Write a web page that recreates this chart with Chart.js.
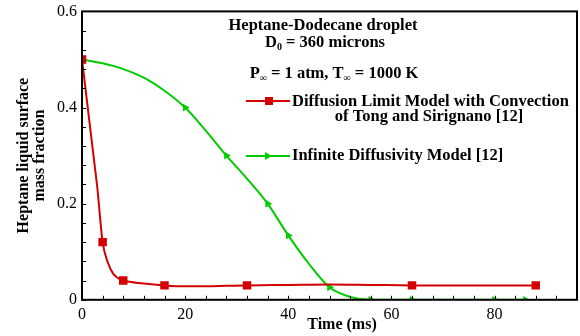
<!DOCTYPE html>
<html><head><meta charset="utf-8">
<script src="https://cdn.jsdelivr.net/npm/chart.js@4"></script>
<style>html,body{margin:0;padding:0;background:#fff;overflow:hidden}#w{width:580px;height:336px;overflow:hidden}</style>
</head><body><div id="w"><canvas id="c" width="583" height="336"></canvas></div>
<script>
// Diffusion limit model (red) curve samples: time (ms), mass fraction
const redTime  = [0, 1, 2, 3, 4, 5, 6, 7, 8, 12, 16, 20, 24, 28, 32, 40, 48, 56, 64, 76, 88];
const redValue = [0.5, 0.41, 0.32, 0.23, 0.12, 0.078, 0.055, 0.045, 0.04, 0.034, 0.03, 0.028, 0.028, 0.029, 0.03, 0.031, 0.032, 0.031, 0.03, 0.03, 0.03];
const redMarkerTimes = [0, 4, 8, 16, 32, 64, 88];
// Infinite diffusivity model (green)
const greenTime  = [0, 4, 8, 12, 16, 20, 24, 28, 32, 36, 40, 44, 48, 52, 56, 64, 72, 80, 86];
const greenValue = [0.5, 0.492, 0.48, 0.462, 0.435, 0.4, 0.352, 0.3, 0.252, 0.2, 0.134, 0.075, 0.026, 0.006, 0, 0, 0, 0, 0];
const greenMarkerTimes = [0, 20, 28, 36, 40, 48, 56, 64, 80, 86];
const xTickLabels = [0, 20, 40, 60, 80];
const yTickLabels = [0, 0.2, 0.4, 0.6];
const xTitle = 'Time (ms)';
const seriesNames = ['Diffusion Limit Model with Convection', 'of Tong and Sirignano [12]', 'Infinite Diffusivity Model [12]'];

const RED = '#d40000', GREEN = '#00cc00';
const SERIF = '"Liberation Serif", "Times New Roman", serif';
const BOLD = 'bold 16.5px '+SERIF;
const SUB = 'bold 10px '+SERIF;

const redData = redTime.map((t,i)=>({x:t,y:redValue[i]}));
const greenData = greenTime.map((t,i)=>({x:t,y:greenValue[i]}));

// draws a line made of [text, isSubscript] pieces centred at cx
function richText(ctx, parts, cx, cy){
  let w=0;
  parts.forEach(p=>{ctx.font=p[1]?SUB:BOLD; w+=ctx.measureText(p[0]).width;});
  let x=cx-w/2;
  ctx.textAlign='left'; ctx.textBaseline='alphabetic';
  parts.forEach(p=>{ctx.font=p[1]?SUB:BOLD; ctx.fillText(p[0], x, cy+(p[1]?3:0)); x+=ctx.measureText(p[0]).width;});
}

const decor = {
  id:'decor',
  afterDraw(chart){
    const {ctx, chartArea:a, scales:{x,y}} = chart;
    ctx.save();
    ctx.strokeStyle='#000'; ctx.lineWidth=1;
    x.ticks.forEach(t=>{const px=Math.round(x.getPixelForValue(t.value))+0.5; ctx.beginPath(); ctx.moveTo(px,a.bottom); ctx.lineTo(px,a.bottom-4); ctx.stroke();});
    y.ticks.forEach(t=>{const py=Math.round(y.getPixelForValue(t.value))+0.5; ctx.beginPath(); ctx.moveTo(a.left,py); ctx.lineTo(a.left+4,py); ctx.stroke();});
    ctx.lineWidth=2;
    ctx.strokeRect(a.left, a.top, a.right-a.left, a.bottom-a.top);
    ctx.fillStyle='#000';
    // x axis title
    ctx.font='bold 16px '+SERIF; ctx.textAlign='center'; ctx.textBaseline='middle';
    ctx.fillText(xTitle, 342, 325);
    richText(ctx, [['Heptane-Dodecane droplet',0]], 323, 30);
    richText(ctx, [['D',0],['0',1],[' = 360 microns',0]], 325, 47);
    richText(ctx, [['P',0],['\u221E',1],[' = 1 atm, T',0],['\u221E',1],[' = 1000 K',0]], 334, 78);
    const lx0=246, lx1=290;
    const entries=[{ds:0,y:101},{ds:1,y:156}];
    entries.forEach(e=>{
      const d=chart.data.datasets[e.ds];
      ctx.strokeStyle=d.borderColor; ctx.lineWidth=2;
      ctx.beginPath(); ctx.moveTo(lx0,e.y); ctx.lineTo(lx1,e.y); ctx.stroke();
      ctx.fillStyle=d.borderColor;
      if(e.ds===0){ctx.fillRect(265,e.y-4,8,8);} else {
        ctx.beginPath(); ctx.moveTo(272,e.y); ctx.lineTo(265,e.y-4); ctx.lineTo(265,e.y+4); ctx.closePath(); ctx.fill();
      }
    });
    ctx.fillStyle='#000'; ctx.font=BOLD; ctx.textBaseline='middle';
    ctx.textAlign='left';
    ctx.fillText(seriesNames[0], 292, 102);
    ctx.textAlign='center';
    ctx.fillText(seriesNames[1], 429, 117);
    ctx.textAlign='left';
    ctx.fillText(seriesNames[2], 292, 156);
    ctx.restore();
  }
};

new Chart(document.getElementById('c'), {
  type:'line',
  data:{datasets:[
    {data:redData, borderColor:RED, backgroundColor:RED, borderWidth:2, cubicInterpolationMode:'monotone', order:0,
     pointStyle:'rect', pointRadius:redTime.map(t=>redMarkerTimes.includes(t)?6:0), pointBorderWidth:0},
    {data:greenData, borderColor:GREEN, backgroundColor:GREEN, borderWidth:2, cubicInterpolationMode:'monotone', order:1,
     pointStyle:'triangle', rotation:90, pointRadius:greenTime.map(t=>greenMarkerTimes.includes(t)?4.5:0), pointBorderWidth:0}
  ]},
  options:{
    responsive:false, animation:false, events:[],
    layout:{padding:{left:6,right:0,top:7,bottom:7}},
    plugins:{legend:{display:false}, tooltip:{enabled:false}},
    scales:{
      x:{type:'linear', min:0, max:96,
        grid:{drawOnChartArea:false, drawTicks:false}, border:{display:false},
        ticks:{stepSize:4, padding:5, color:'#000', font:{family:SERIF,size:16}, maxRotation:0, autoSkip:false,
          callback:v=>xTickLabels.includes(v)?String(v):''},
        title:{display:false}},
      y:{type:'linear', min:0, max:0.6,
        grid:{drawOnChartArea:false, drawTicks:false}, border:{display:false},
        ticks:{stepSize:0.04, padding:5, color:'#000', font:{family:SERIF,size:16,lineHeight:0.8}, autoSkip:false,
          callback:v=>{const m=yTickLabels.find(l=>Math.abs(l-v)<1e-6); return m===undefined?'':String(m);}},
        title:{display:true, text:['Heptane liquid surface','mass fraction'], color:'#000', font:{family:SERIF,size:16,weight:'bold', lineHeight:1.0}, padding:{top:10,bottom:4}}}
    }
  },
  plugins:[decor]
});
</script></body></html>
